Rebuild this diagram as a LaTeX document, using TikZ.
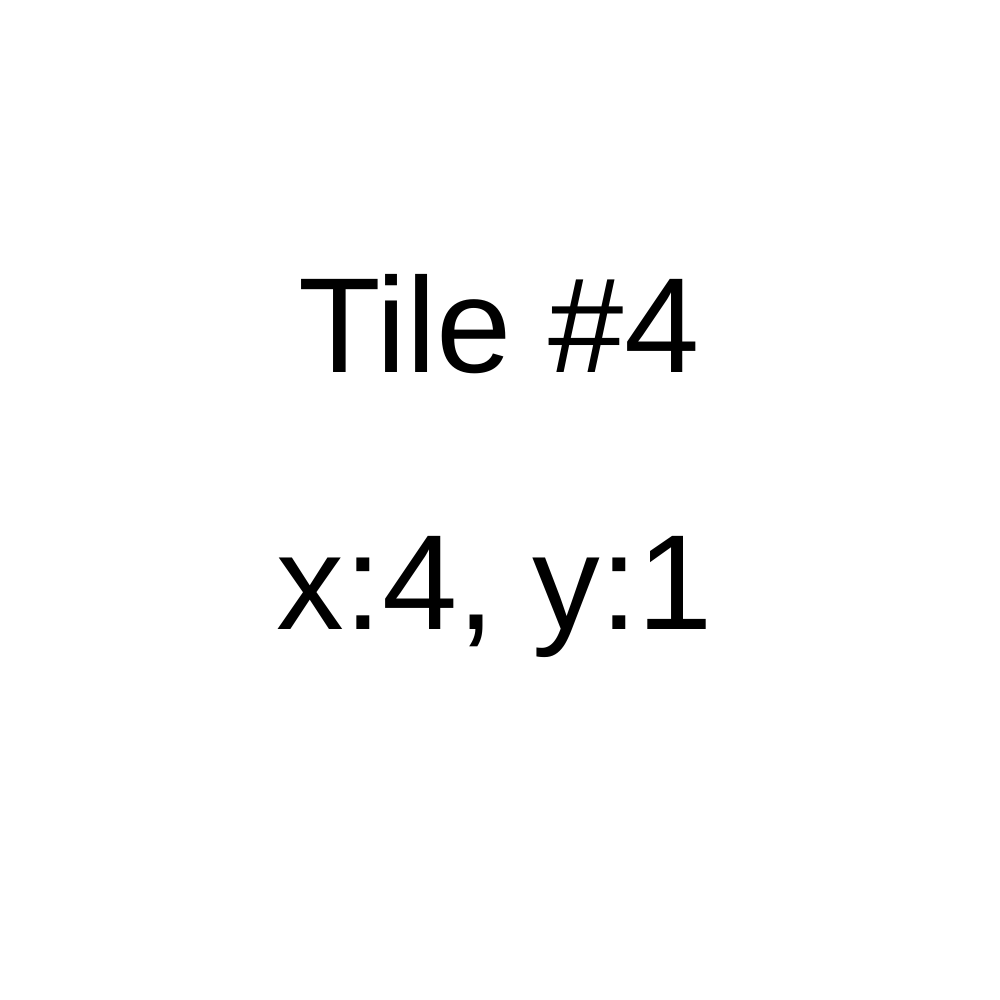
\documentclass[tikz,border=0pt]{standalone}
\usepackage{fontspec}
\setmainfont{Liberation Sans}
\begin{document}
\begin{tikzpicture}[x=0.01cm,y=-0.01cm,
  lbl/.style={anchor=base,inner sep=0pt,font=\fontsize{38.5}{44}\selectfont}]
\useasboundingbox[fill=white] (0,0) rectangle (1000,1000);
\node[lbl] (title) at (499,372) {Tile \#4};
\node[lbl] (coords) at (495,629) {x:4, y:1};
\end{tikzpicture}
\end{document}
